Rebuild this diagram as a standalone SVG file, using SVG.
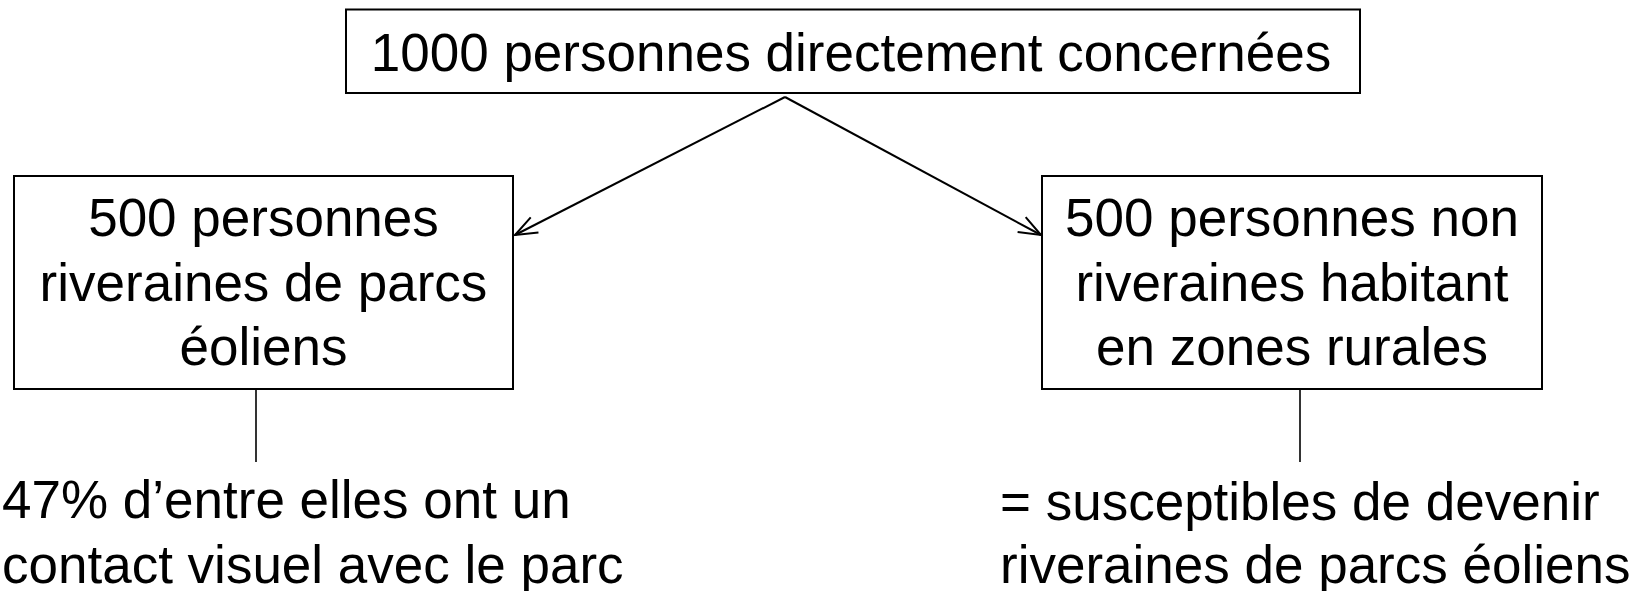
<svg xmlns="http://www.w3.org/2000/svg" width="1652" height="591" viewBox="0 0 1652 591">
<style>
.box{fill:#fff;stroke:#000;stroke-width:2}
.t{font-family:"Liberation Sans",Arial,sans-serif;font-size:53px;fill:#000}
.c{text-anchor:middle}
.edge{stroke:#000;stroke-width:2;fill:none}
.plain{stroke:#000;stroke-width:1.6;fill:none}
</style>
<defs>
<marker id="arr" markerUnits="userSpaceOnUse" markerWidth="30" markerHeight="30" viewBox="-26 -15 30 30" refX="0" refY="0" orient="auto">
<path d="M-22,-8.5 L0,0 L-22,8.5" fill="none" stroke="#000" stroke-width="2"/>
</marker>
</defs>
<rect width="1652" height="591" fill="#fff"/>
<g id="connectors">
<line class="edge" x1="785" y1="97" x2="515" y2="235" marker-end="url(#arr)"/>
<line class="edge" x1="785" y1="97" x2="1041" y2="235" marker-end="url(#arr)"/>
<line class="plain" x1="256" y1="389" x2="256" y2="462"/>
<line class="plain" x1="1300" y1="389" x2="1300" y2="462"/>
</g>
<g id="top">
<rect class="box" x="346" y="9.5" width="1014" height="83.5"/>
<text class="t c" x="851" y="71">1000 personnes directement concernées</text>
</g>
<g id="left">
<rect class="box" x="14" y="176" width="499" height="213"/>
<text class="t c" x="263.5" y="236">500 personnes</text>
<text class="t c" x="263.5" y="300.5">riveraines de parcs</text>
<text class="t c" x="263.5" y="365">éoliens</text>
</g>
<g id="right">
<rect class="box" x="1042" y="176" width="500" height="213"/>
<text class="t c" x="1292" y="236">500 personnes non</text>
<text class="t c" x="1292" y="300.5">riveraines habitant</text>
<text class="t c" x="1292" y="365">en zones rurales</text>
</g>
<g id="left-note">
<text class="t" x="2" y="518">47% d’entre elles ont un</text>
<text class="t" x="2" y="583">contact visuel avec le parc</text>
</g>
<g id="right-note">
<text class="t" x="1000" y="520">= susceptibles de devenir</text>
<text class="t" x="1000" y="583">riveraines de parcs éoliens</text>
</g>
</svg>
